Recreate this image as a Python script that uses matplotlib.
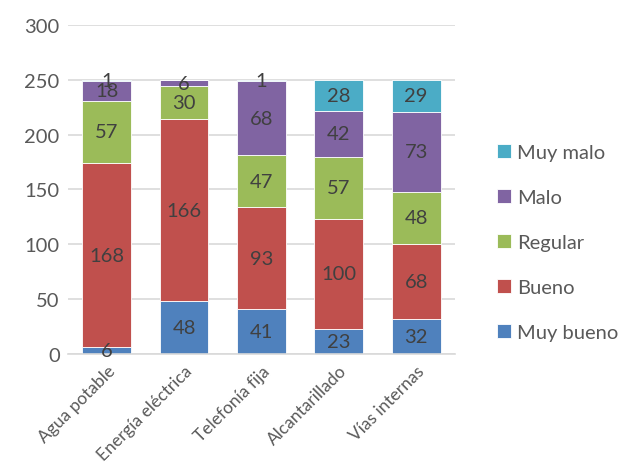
import numpy as np
import matplotlib.pyplot as plt

plt.rcParams['font.family'] = ['Lato', 'DejaVu Sans']

categories = ['Agua potable', 'Energía eléctrica', 'Telefonía fija', 'Alcantarillado', 'Vías internas']
series_names = ['Muy bueno', 'Bueno', 'Regular', 'Malo', 'Muy malo']
muy_bueno = [6, 48, 41, 23, 32]
bueno = [168, 166, 93, 100, 68]
regular = [57, 30, 47, 57, 48]
malo = [18, 6, 68, 42, 73]
muy_malo = [1, 0, 1, 28, 29]
colors = ['#4F81BD', '#C0504D', '#9BBB59', '#8064A2', '#4BACC6']

series = [muy_bueno, bueno, regular, malo, muy_malo]

fig = plt.figure(figsize=(6.3, 4.64), dpi=100)
ax = fig.add_axes([0.108, 0.235, 0.614, 0.709])

x = np.arange(len(categories))
bottom = np.zeros(len(categories))
handles = []
for name, vals, col in zip(series_names, series, colors):
    vals = np.array(vals, dtype=float)
    bars = ax.bar(x, vals, 0.63, bottom=bottom, color=col, edgecolor='white',
                  linewidth=0.6, label=name, zorder=2)
    handles.append(bars)
    for xi, b, v in zip(x, bottom, vals):
        if v > 0:
            ax.text(xi, b + v / 2, f'{int(v)}', ha='center', va='center',
                    fontsize=14.5, color='#404040', zorder=3)
    bottom += vals

ax.set_ylim(0, 300)
ax.set_xlim(-0.5, len(categories) - 0.5)
ax.set_yticks(range(0, 301, 50))
ax.yaxis.grid(True, color='#D9D9D9', linewidth=1.2, zorder=0)
ax.set_axisbelow(True)
for s in ['top', 'right', 'left']:
    ax.spines[s].set_visible(False)
ax.spines['bottom'].set_color('#D9D9D9')
ax.spines['bottom'].set_linewidth(1.2)
ax.tick_params(length=0, colors='#595959', labelsize=14.5, pad=6)
ax.set_xticks(x)
ax.set_xticklabels(categories, rotation=45, ha='right', rotation_mode='anchor',
                   fontsize=12.5)

leg = fig.legend(handles[::-1], series_names[::-1], loc='center left',
                 bbox_to_anchor=(0.76, 0.475), frameon=False, fontsize=14.5,
                 handlelength=0.7, handleheight=0.7, handletextpad=0.3,
                 labelspacing=1.38, labelcolor='#595959')

fig.savefig('out.png', dpi=100)
